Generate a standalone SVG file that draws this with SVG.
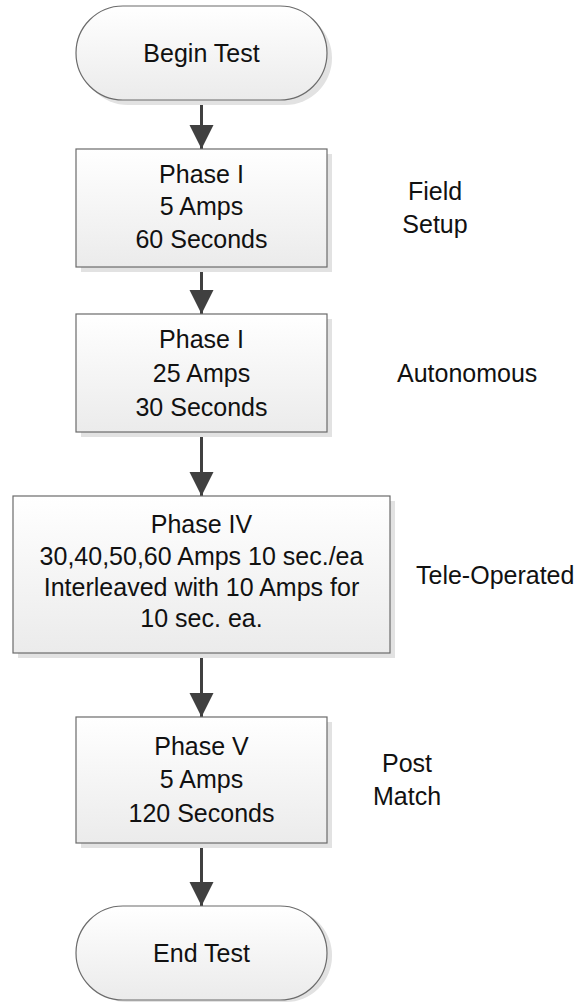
<svg xmlns="http://www.w3.org/2000/svg" width="581" height="1003" viewBox="0 0 581 1003">
  <defs>
    <linearGradient id="fillGrad" x1="0" y1="0" x2="0" y2="1">
      <stop offset="0" stop-color="#ffffff"/>
      <stop offset="1" stop-color="#ebebeb"/>
    </linearGradient>
    <marker id="arrow" markerUnits="userSpaceOnUse" markerWidth="26" markerHeight="26" viewBox="0 0 26 26" refX="24" refY="12" orient="auto">
      <path d="M0,0 L24,12 L0,24 Z" fill="#404040"/>
    </marker>
    <style>
      .shape { fill: url(#fillGrad); stroke: #6b6b6b; stroke-width: 1.2; }
      .shadow { fill: #e2e2e2; }
      .txt { font-family: "Liberation Sans", Arial, sans-serif; font-size: 25px; fill: #111111; text-anchor: middle; }
      .lbl { font-family: "Liberation Sans", Arial, sans-serif; font-size: 25px; fill: #111111; }
      .conn { stroke: #404040; stroke-width: 3; fill: none; marker-end: url(#arrow); }
    </style>
  </defs>

  <g id="connectors">
    <line class="conn" x1="201.5" y1="100" x2="201.5" y2="149"/>
    <line class="conn" x1="201.5" y1="267" x2="201.5" y2="314"/>
    <line class="conn" x1="201.5" y1="432" x2="201.5" y2="496"/>
    <line class="conn" x1="201.5" y1="653" x2="201.5" y2="717"/>
    <line class="conn" x1="201.5" y1="843" x2="201.5" y2="906"/>
  </g>

  <g id="begin">
    <rect class="shadow" x="81" y="11" width="251" height="94" rx="47" ry="47"/>
    <rect class="shape" x="76" y="6" width="251" height="94" rx="47" ry="47"/>
    <text class="txt" x="201.5" y="62">Begin Test</text>
  </g>

  <g id="phase1a">
    <rect class="shadow" x="81" y="154" width="251" height="118"/>
    <rect class="shape" x="76" y="149" width="251" height="118"/>
    <text class="txt" x="201.5" y="183">Phase I</text>
    <text class="txt" x="201.5" y="215">5 Amps</text>
    <text class="txt" x="201.5" y="248">60 Seconds</text>
  </g>

  <g id="phase1b">
    <rect class="shadow" x="81" y="319" width="251" height="118"/>
    <rect class="shape" x="76" y="314" width="251" height="118"/>
    <text class="txt" x="201.5" y="348">Phase I</text>
    <text class="txt" x="201.5" y="382">25 Amps</text>
    <text class="txt" x="201.5" y="416">30 Seconds</text>
  </g>

  <g id="phase4">
    <rect class="shadow" x="18" y="501" width="377" height="157"/>
    <rect class="shape" x="13" y="496" width="377" height="157"/>
    <text class="txt" x="201.5" y="533">Phase IV</text>
    <text class="txt" x="201.5" y="565">30,40,50,60 Amps 10 sec./ea</text>
    <text class="txt" x="201.5" y="596">Interleaved with 10 Amps for</text>
    <text class="txt" x="201.5" y="627">10 sec. ea.</text>
  </g>

  <g id="phase5">
    <rect class="shadow" x="81" y="722" width="251" height="126"/>
    <rect class="shape" x="76" y="717" width="251" height="126"/>
    <text class="txt" x="201.5" y="755">Phase V</text>
    <text class="txt" x="201.5" y="788">5 Amps</text>
    <text class="txt" x="201.5" y="822">120 Seconds</text>
  </g>

  <g id="end">
    <rect class="shadow" x="81" y="909" width="251" height="93" rx="46" ry="46"/>
    <rect class="shape" x="76" y="906" width="251" height="94" rx="47" ry="47"/>
    <text class="txt" x="201.5" y="962">End Test</text>
  </g>

  <g id="labels">
    <text class="txt" x="435" y="200">Field</text>
    <text class="txt" x="435" y="233">Setup</text>
    <text class="lbl" x="397" y="382">Autonomous</text>
    <text class="lbl" x="416" y="584">Tele-Operated</text>
    <text class="txt" x="407" y="772">Post</text>
    <text class="txt" x="407" y="805">Match</text>
  </g>
</svg>
